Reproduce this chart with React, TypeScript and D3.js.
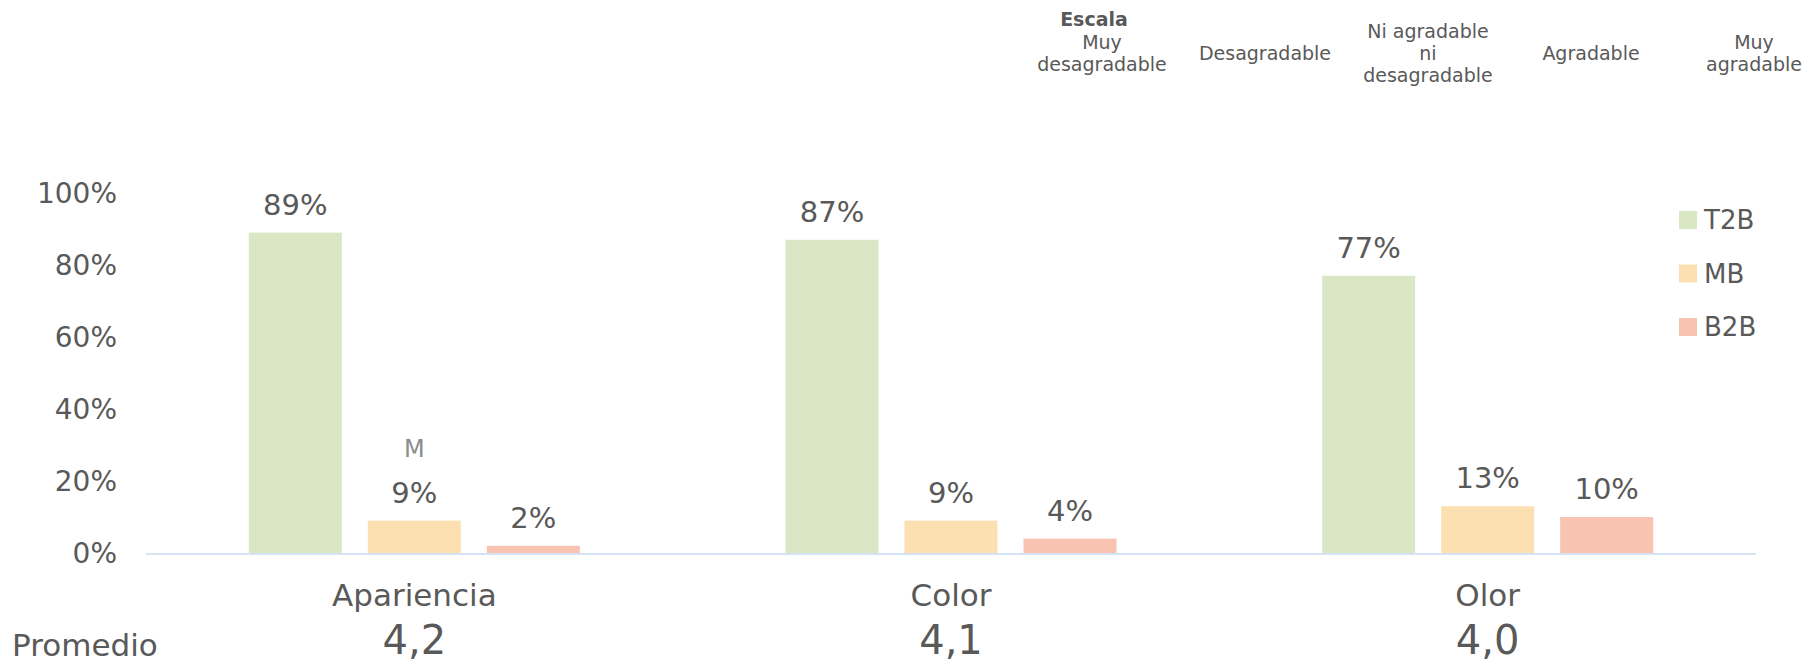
import React from "react";
import * as d3 from "d3";

const categories = ["Apariencia", "Color", "Olor"];
const series = ["T2B", "MB", "B2B"];
const t2bValues = [0.89, 0.87, 0.77];
const mbValues = [0.09, 0.09, 0.13];
const b2bValues = [0.02, 0.04, 0.1];
const averages = ["4,2", "4,1", "4,0"];
const yTicks = [0, 0.2, 0.4, 0.6, 0.8, 1.0];
const scaleTitle = "Escala";
const scaleLabels = [
  ["Muy", "desagradable"],
  ["Desagradable"],
  ["Ni agradable", "ni", "desagradable"],
  ["Agradable"],
  ["Muy", "agradable"],
];
const strayLabel = { category: "Apariencia", series: "MB", text: "M" };
const colors = ["#d9e7c5", "#fde0b2", "#f8c3b1"];

const W = 1806;
const H = 663;
const FONT = "'Century Gothic', 'DejaVu Sans', sans-serif";
const TEXT = "#595959";

export default function App() {
  const valuesBySeries = [t2bValues, mbValues, b2bValues];
  const x0 = d3.scaleBand<string>().domain(categories).range([146, 1756]).paddingInner(0).paddingOuter(0);
  const x1 = d3
    .scaleBand<string>()
    .domain(series)
    .range([0, x0.bandwidth()])
    .paddingInner(0.2185)
    .paddingOuter(0.864);
  const y = d3.scaleLinear().domain([0, 1]).range([553, 193]);
  const color = d3.scaleOrdinal<string, string>().domain(series).range(colors);
  const pct = d3.format(".0%");
  const xs = d3.scalePoint<number>().domain(d3.range(scaleLabels.length)).range([1102, 1754]);
  const legendY = d3.scalePoint<string>().domain(series).range([220, 327]);

  return (
    <svg
      width={W}
      height={H}
      style={{ position: "absolute", left: 0, top: 0, background: "#fff" }}
      fontFamily={FONT}
    >
      <rect x={0} y={0} width={W} height={H} fill="#fff" />
      {/* Scale header */}
      <text x={1094} y={26} textAnchor="middle" fontSize={19} fontWeight="bold" fill={TEXT}>
        {scaleTitle}
      </text>
      {scaleLabels.map((lines, i) => {
        const mid = 60;
        const lh = 22;
        const start = mid - ((lines.length - 1) * lh) / 2;
        return (
          <text key={i} x={xs(i)} textAnchor="middle" fontSize={19} fill={TEXT}>
            {lines.map((l, j) => (
              <tspan key={j} x={xs(i)} y={start + j * lh}>
                {l}
              </tspan>
            ))}
          </text>
        );
      })}

      {/* Y axis tick labels */}
      {yTicks.map((t) => (
        <text key={t} x={117} y={y(t)} dy="0.36em" textAnchor="end" fontSize={28} fill={TEXT}>
          {pct(t)}
        </text>
      ))}

      {/* Bars */}
      {categories.map((c, ci) => (
        <g key={c} transform={`translate(${x0(c)},0)`}>
          {series.map((s, si) => {
            const v = valuesBySeries[si][ci];
            const bx = x1(s) as number;
            const bw = x1.bandwidth();
            return (
              <g key={s}>
                <rect x={bx} y={y(v)} width={bw} height={y(0) - y(v)} fill={color(s)} />
                <text
                  x={bx + bw / 2}
                  y={y(v) - 18}
                  textAnchor="middle"
                  fontSize={29}
                  fill={TEXT}
                >
                  {pct(v)}
                </text>
                {strayLabel.category === c && strayLabel.series === s && (
                  <text x={bx + bw / 2} y={y(v) - 64} textAnchor="middle" fontSize={24} fill="#8c8c8c">
                    {strayLabel.text}
                  </text>
                )}
              </g>
            );
          })}
          <text x={x0.bandwidth() / 2} y={606} textAnchor="middle" fontSize={31} fill={TEXT}>
            {c}
          </text>
          <text x={x0.bandwidth() / 2} y={654} textAnchor="middle" fontSize={40} fill={TEXT}>
            {averages[ci]}
          </text>
        </g>
      ))}

      {/* Axis line */}
      <line x1={x0.range()[0]} x2={x0.range()[1]} y1={y(0) + 1} y2={y(0) + 1} stroke="#d5e3f4" strokeWidth={2} />

      <text x={12} y={656} fontSize={31} fill={TEXT}>
        Promedio
      </text>

      {/* Legend */}
      {series.map((s) => (
        <g key={s} transform={`translate(1679,${legendY(s)})`}>
          <rect x={0} y={-9} width={18} height={18} fill={color(s)} />
          <text x={25} y={0} dy="0.36em" fontSize={26} fill={TEXT}>
            {s}
          </text>
        </g>
      ))}
    </svg>
  );
}
